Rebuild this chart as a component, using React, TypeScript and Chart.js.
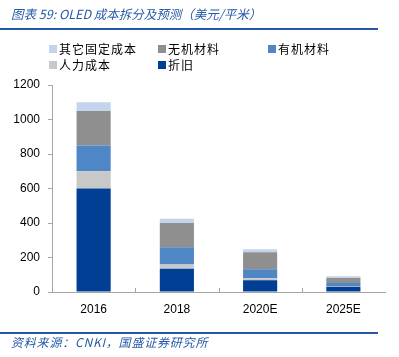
import React, { useEffect, useRef } from "react";
import { Chart, registerables } from "chart.js";

Chart.register(...registerables);

const categories = ["2016", "2018", "2020E", "2025E"];
const depreciation = [600, 135, 68, 30]; // 折旧
const labor = [100, 25, 12, 5]; // 人力成本
const organic = [150, 100, 52, 17]; // 有机材料
const inorganic = [200, 140, 98, 29]; // 无机材料
const otherFixed = [50, 25, 18, 10]; // 其它固定成本

const seriesNames = ["折旧", "人力成本", "有机材料", "无机材料", "其它固定成本"];
const seriesColors = ["#003f93", "#c8c8c8", "#4f86c6", "#8f8f8f", "#c3d4ec"];

const yTicks = [0, 200, 400, 600, 800, 1000, 1200];

const legendItems = [
  { name: "其它固定成本", color: "#c3d4ec", x: 49, y: 49 },
  { name: "无机材料", color: "#8f8f8f", x: 158, y: 49 },
  { name: "有机材料", color: "#4f86c6", x: 268, y: 49 },
  { name: "人力成本", color: "#c8c8c8", x: 49, y: 65 },
  { name: "折旧", color: "#003f93", x: 158, y: 65 },
];

const innerTicks = {
  id: "innerTicks",
  afterDraw(chart: any) {
    const xs = chart.scales.x;
    const ctx = chart.ctx;
    const bottom = chart.chartArea.bottom;
    ctx.save();
    ctx.strokeStyle = "#a6a6a6";
    ctx.lineWidth = 1;
    for (let i = 1; i < categories.length; i++) {
      const x = Math.round((xs.getPixelForValue(i - 1) + xs.getPixelForValue(i)) / 2) + 0.5;
      ctx.beginPath();
      ctx.moveTo(x, bottom - 4);
      ctx.lineTo(x, bottom);
      ctx.stroke();
    }
    ctx.restore();
  },
};

export default function App() {
  const ref = useRef<HTMLCanvasElement>(null);
  useEffect(() => {
    const values = [depreciation, labor, organic, inorganic, otherFixed];
    const chart = new Chart(ref.current!, {
      type: "bar",
      data: {
        labels: categories,
        datasets: values.map((d, i) => ({
          label: seriesNames[i],
          data: d,
          backgroundColor: seriesColors[i],
          borderWidth: 0,
          categoryPercentage: 1,
          barPercentage: 0.41,
        })),
      },
      options: {
        animation: false,
        responsive: false,
        devicePixelRatio: 1,
        layout: { padding: { top: 85, right: 14, left: 0, bottom: 0 } },
        plugins: { legend: { display: false }, tooltip: { enabled: false }, title: { display: false } },
        scales: {
          x: {
            stacked: true,
            offset: true,
            grid: { display: false, drawTicks: false },
            border: { display: true, color: "#a6a6a6", width: 1 },
            ticks: { color: "#000", font: { family: "Liberation Sans", size: 12 }, padding: 10 },
            afterFit: (s: any) => { s.height = 65; },
          },
          y: {
            stacked: true,
            min: 0,
            max: 1200,
            afterBuildTicks: (s: any) => { s.ticks = yTicks.map((v) => ({ value: v })); },
            grid: { drawOnChartArea: false, drawTicks: true, tickLength: 4, color: "#a6a6a6" },
            border: { display: true, color: "#a6a6a6", width: 1 },
            ticks: {
              color: "#000",
              font: { family: "Liberation Sans", size: 12 },
              padding: 8,
              callback: (v: any) => String(v),
            },
            afterFit: (s: any) => { s.width = 52; },
          },
        },
      },
      plugins: [innerTicks],
    });
    return () => chart.destroy();
  }, []);

  const blue = "#2559a8";
  return (
    <div style={{ position: "fixed", left: 0, top: 0, width: 399, height: 357, background: "#fff", overflow: "hidden" }}>
      <canvas ref={ref} width={399} height={357} style={{ position: "absolute", left: 0, top: 0, width: 399, height: 357 }} />
      <div style={{ position: "absolute", left: 11, top: 6, fontFamily: "'Noto Sans CJK SC', sans-serif", fontStyle: "italic", fontSize: 12.5, lineHeight: "16px", color: blue, whiteSpace: "nowrap" }}>
        图表 59:  OLED 成本拆分及预测（美元/平米）
      </div>
      <div style={{ position: "absolute", left: 0, top: 28, width: 378, height: 2, background: blue }} />
      {legendItems.map((it) => (
        <div key={it.name} style={{ position: "absolute", left: it.x, top: it.y - 8, height: 16, display: "flex", alignItems: "center", whiteSpace: "nowrap" }}>
          <span style={{ display: "inline-block", width: 8, height: 8, background: it.color, marginRight: 2 }} />
          <span style={{ fontFamily: "'Noto Sans CJK SC', sans-serif", fontSize: 12, letterSpacing: 1, color: "#000", lineHeight: "16px" }}>{it.name}</span>
        </div>
      ))}
      <div style={{ position: "absolute", left: 0, top: 332, width: 378, height: 2, background: blue }} />
      <div style={{ position: "absolute", left: 11, top: 334, fontFamily: "'Noto Sans CJK SC', sans-serif", fontStyle: "italic", fontSize: 12, letterSpacing: 0.8, lineHeight: "16px", color: blue, whiteSpace: "nowrap" }}>
        资料来源：CNKI，国盛证券研究所
      </div>
    </div>
  );
}
